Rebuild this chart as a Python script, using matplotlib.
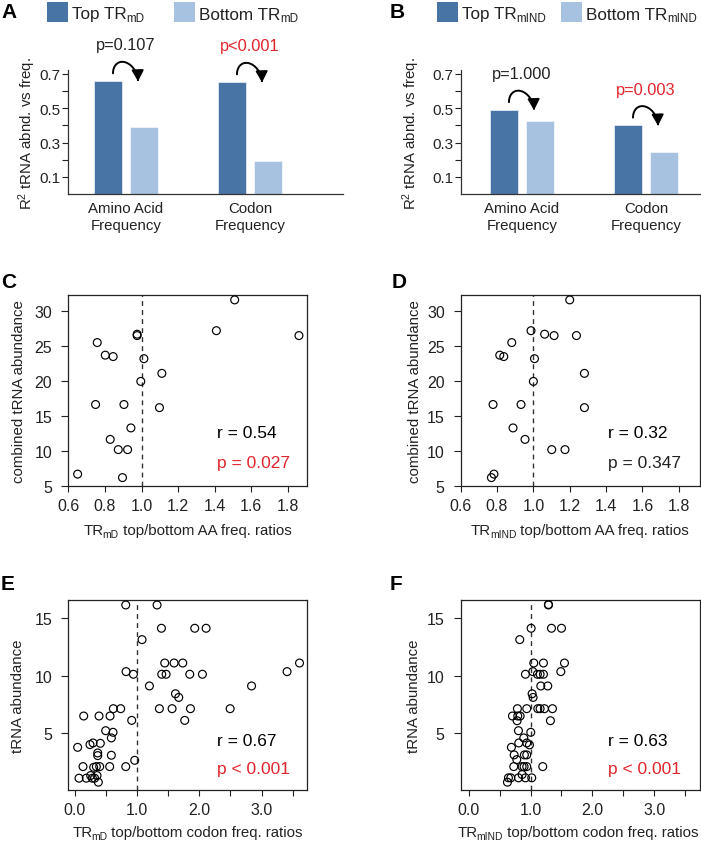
import numpy as np
import matplotlib
matplotlib.use("Agg")
import matplotlib.pyplot as plt
from matplotlib.patches import Rectangle, FancyArrowPatch
from matplotlib.path import Path

plt.rcParams['font.family'] = ['Liberation Sans', 'DejaVu Sans']
plt.rcParams['mathtext.fontset'] = 'custom'
plt.rcParams['mathtext.rm'] = 'Liberation Sans'
plt.rcParams['mathtext.it'] = 'Liberation Sans:italic'
plt.rcParams['mathtext.bf'] = 'Liberation Sans:bold'

# ---- data ----
bar_groups = ["Amino Acid\nFrequency", "Codon\nFrequency"]
a_top = [0.658, 0.652]
a_bottom = [0.39, 0.19]
a_pvals = ["p=0.107", "p<0.001"]
a_pcolors = ["#222222", "#e2242c"]
b_top = [0.49, 0.40]
b_bottom = [0.425, 0.245]
b_pvals = ["p=1.000", "p=0.003"]
b_pcolors = ["#222222", "#e2242c"]

# combined tRNA abundance per amino acid (C and D)
aa_abund = [31.6, 27.2, 26.7, 26.5, 26.5, 25.5, 23.7, 23.5, 23.2, 21.1,
            19.95, 16.65, 16.65, 16.2, 13.3, 11.66, 10.2, 10.2, 6.7, 6.2]
c_ratio = [1.509, 1.409, 0.976, 0.976, 1.86, 0.758, 0.802, 0.845, 1.013, 1.111,
           0.996, 0.749, 0.904, 1.098, 0.942, 0.829, 0.873, 0.924, 0.651, 0.896]
d_ratio = [1.2, 0.987, 1.062, 1.114, 1.237, 0.881, 0.815, 0.837, 1.006, 1.281,
           1.0, 0.778, 0.932, 1.281, 0.888, 0.954, 1.101, 1.174, 0.783, 0.769]

# codon level (E)
e_ratio = [0.82, 1.323, 1.393, 1.928, 2.11, 1.082, 1.446, 1.596, 1.735, 3.61,
           0.825, 0.943, 1.398, 1.468, 1.848, 2.051, 3.41, 1.2, 2.84,
           1.618, 1.671, 1.36, 1.564, 1.859, 2.496, 0.621, 0.739, 1.767, 0.916,
           0.145, 0.391, 0.568, 0.498, 0.616, 0.589, 0.048, 0.246, 0.295, 0.412,
           0.37, 0.37, 0.589, 0.964, 0.134, 0.305, 0.348, 0.402, 0.562, 0.82,
           0.07, 0.187, 0.284, 0.321, 0.359, 0.38, 0.257]
e_abund = [16.16, 16.16, 14.13, 14.13, 14.13, 13.14, 11.1, 11.1, 11.1, 11.1,
           10.35, 10.12, 10.12, 10.12, 10.12, 10.12, 10.35, 9.1, 9.1,
           8.42, 8.1, 7.12, 7.12, 7.12, 7.12, 7.12, 7.12, 6.1, 6.1,
           6.48, 6.48, 6.48, 5.2, 5.06, 4.57, 3.75, 3.99, 4.13, 4.1,
           3.26, 3.03, 3.06, 2.62, 2.07, 2.01, 2.07, 2.07, 2.07, 2.07,
           1.06, 1.06, 1.06, 1.06, 1.29, 0.71, 1.29]

# codon level (F)
f_ratio = [1.289, 1.289, 1.009, 1.338, 1.5, 0.825, 1.052, 1.208, 1.548, 1.036,
           1.489, 0.917, 1.111, 1.154, 1.208, 1.165, 1.278,
           1.025, 1.041, 0.787, 0.938, 1.117, 1.154, 1.224, 1.354, 0.707, 0.793,
           0.831, 0.782, 1.321, 0.804, 1.003, 0.89, 0.809, 0.938, 0.982, 0.69,
           0.734, 0.9, 0.938, 0.777, 0.728, 0.863, 0.895, 0.938, 1.197,
           0.642, 0.68, 0.804, 0.917, 1.019, 0.863, 0.626]
f_abund = [16.16, 16.2, 14.13, 14.13, 14.13, 13.14, 11.1, 11.1, 11.1, 10.35,
           10.35, 10.12, 10.12, 10.12, 10.12, 9.1, 9.1,
           8.42, 8.1, 7.12, 7.12, 7.12, 7.12, 7.12, 7.12, 6.48, 6.48,
           6.48, 6.07, 6.07, 5.2, 5.06, 4.57, 4.13, 4.13, 3.96, 3.75,
           3.09, 3.09, 3.09, 2.68, 2.07, 2.07, 2.07, 2.07, 2.07,
           1.09, 1.09, 1.09, 1.09, 1.09, 1.38, 0.71]

dark_blue = "#4874a5"
light_blue = "#a7c1e0"
red = "#e2242c"
ink = "#222222"

W, H = 701, 845
fig = plt.figure(figsize=(W / 100, H / 100), dpi=100)
renderer = fig.canvas.get_renderer()


def add_ax(l, t, r, b):
    return fig.add_axes([l / W, 1 - b / H, (r - l) / W, (b - t) / H])


def ftext(x, y, s, **kw):
    return fig.text(x / W, 1 - y / H, s, **kw)


def rich_text(x, y, parts, size, color=ink, ha='left', drop=3.0, kern=0.5):
    # parts: list of (string, is_subscript); y is the baseline in pixels
    items = []
    for s, sub in parts:
        t = fig.text(0, 0, s, fontsize=size * 0.68 if sub else size, color=color,
                     va='baseline')
        w = t.get_window_extent(renderer).width
        if not sub and items == []:
            w -= kern
        items.append((t, sub, w))
    total = sum(w for _, _, w in items)
    x0 = x - total / 2 if ha == 'center' else x
    for t, sub, w in items:
        t.set_position((x0 / W, 1 - (y + (drop if sub else 0)) / H))
        x0 += w


def legend_item(x, parts, color):
    fig.add_artist(Rectangle((x / W, 1 - 23 / H), 21 / W, 20 / H,
                             transform=fig.transFigure, fc=color, ec='none'))
    rich_text(x + 25, 19.5, parts, 12.3, drop=2.8, kern=0)


def curved_arrow(ax, start, end, h_px):
    p0 = ax.transData.transform(start)
    p1 = ax.transData.transform(end)
    t = np.linspace(0, np.pi, 40)
    u = (1 - np.cos(t)) / 2
    xs = p0[0] + u * (p1[0] - p0[0])
    ys = p0[1] + u * (p1[1] - p0[1]) + h_px * np.sin(t)
    pts = ax.transData.inverted().transform(np.column_stack([xs, ys]))
    arr = FancyArrowPatch(path=Path(pts),
                          arrowstyle="-|>,head_length=0.55,head_width=0.3",
                          mutation_scale=12, lw=1.4, color='black', clip_on=False)
    ax.add_patch(arr)


def bar_panel(ax, top, bottom, pvals, pcolors, xlim):
    pos = np.arange(1, len(top) + 1)
    off, w = 0.145, 0.228
    ax.bar(pos - off, top, width=w, color=dark_blue, ec='white', lw=0.4)
    ax.bar(pos + off, bottom, width=w, color=light_blue, ec='white', lw=0.4)
    ax.set_xlim(*xlim)
    ax.set_ylim(0, 0.72)
    ax.set_yticks(np.arange(0.1, 0.75, 0.1))
    ax.set_yticklabels(["0.1", "", "0.3", "", "0.5", "", "0.7"])
    ax.set_xticks(pos)
    ax.set_xticklabels(bar_groups, linespacing=1.25)
    ax.tick_params(axis='x', length=0, pad=5, labelsize=10.8, colors=ink)
    ax.tick_params(axis='y', length=4, width=0.8, pad=1.5, labelsize=11,
                   colors=ink)
    for s in ['top', 'right']:
        ax.spines[s].set_visible(False)
    for s in ['left', 'bottom']:
        ax.spines[s].set_color('#333333')
        ax.spines[s].set_linewidth(0.9)
    for i in range(len(top)):
        t = top[i]
        curved_arrow(ax, (pos[i] - 0.105, t + 0.045), (pos[i] + 0.097, t - 0.002), 15)
        ax.text(pos[i], t + 0.185, pvals[i], ha='center', va='baseline',
                fontsize=11.8, color=pcolors[i], clip_on=False)


def scatter_panel(ax, x, y, xlim, ylim, xticks, xlabels, yticks):
    ax.scatter(x, y, s=32, facecolors='none', edgecolors='black', linewidths=0.85,
               clip_on=False, zorder=3)
    ax.axvline(1.0, color='#333333', lw=1.0, ls=(0, (3.5, 3)), zorder=1)
    ax.set_xlim(*xlim)
    ax.set_ylim(*ylim)
    ax.set_xticks(xticks)
    ax.set_xticklabels(xlabels)
    ax.set_yticks(yticks)
    ax.tick_params(axis='both', width=0.8, labelsize=11.5, colors=ink)
    ax.tick_params(axis='x', length=4.3, pad=4)
    ax.tick_params(axis='y', length=5, pad=6.5)
    for s in ax.spines.values():
        s.set_color('#222222')
        s.set_linewidth(0.9)


# ---- A ----
axA = add_ax(68, 71.4, 343, 195)
bar_panel(axA, a_top, a_bottom, a_pvals, a_pcolors, (0.532, 2.75))
legend_item(47, [("Top TR", False), ("mD", True)], dark_blue)
legend_item(174, [("Bottom TR", False), ("mD", True)], light_blue)
ftext(1, 18.5, "A", fontsize=15, fontweight='bold', va='baseline')
ftext(27, 134, r"R$^{2}$ tRNA abnd. vs freq.", rotation=90, ha='center',
      va='center', fontsize=10.8, color=ink)

# ---- B ----
axB = add_ax(460.7, 71.4, 700, 195)
bar_panel(axB, b_top, b_bottom, b_pvals, b_pcolors, (0.506, 2.435))
legend_item(437, [("Top TR", False), ("mIND", True)], dark_blue)
legend_item(561, [("Bottom TR", False), ("mIND", True)], light_blue)
ftext(390, 18.5, "B", fontsize=15, fontweight='bold', va='baseline')
ftext(411, 134, r"R$^{2}$ tRNA abnd. vs freq.", rotation=90, ha='center',
      va='center', fontsize=10.8, color=ink)

aa_ticks = np.arange(0.6, 1.85, 0.2)
aa_labels = ["%.1f" % v for v in aa_ticks]
cod_ticks = np.arange(0.0, 3.55, 0.5)
cod_labels = ["%.1f" % v if v % 1 == 0 else "" for v in cod_ticks]

# ---- C ----
axC = add_ax(68.3, 296, 307, 487)
scatter_panel(axC, c_ratio, aa_abund, (0.6, 1.904), (5, 32.3), aa_ticks, aa_labels,
              [5, 10, 15, 20, 25, 30])
ftext(1, 288, "C", fontsize=15, fontweight='bold', va='baseline')
ftext(19, 392, "combined tRNA abundance", rotation=90, ha='center', va='center',
      fontsize=10.8, color=ink)
rich_text(187.5, 535, [("TR", False), ("mD", True),
                       (" top/bottom AA freq. ratios", False)], 10.8, ha='center',
          kern=1)
ftext(217, 438.5, "r = 0.54", fontsize=12.5, color='black', va='baseline')
ftext(217, 468.5, "p = 0.027", fontsize=12.5, color=red, va='baseline')

# ---- D ----
axD = add_ax(460.7, 296, 700, 487)
scatter_panel(axD, d_ratio, aa_abund, (0.6, 1.917), (5, 32.3), aa_ticks, aa_labels,
              [5, 10, 15, 20, 25, 30])
ftext(392, 288, "D", fontsize=15, fontweight='bold', va='baseline')
ftext(415, 392, "combined tRNA abundance", rotation=90, ha='center', va='center',
      fontsize=10.8, color=ink)
rich_text(580, 535, [("TR", False), ("mIND", True),
                     (" top/bottom AA freq. ratios", False)], 10.8, ha='center',
          kern=1)
ftext(608, 438.5, "r = 0.32", fontsize=12.5, color='black', va='baseline')
ftext(608, 468.5, "p = 0.347", fontsize=12.5, color=ink, va='baseline')

# ---- E ----
axE = add_ax(68, 600.7, 307, 791)
scatter_panel(axE, e_ratio, e_abund, (-0.107, 3.73), (0.03, 16.62), cod_ticks,
              cod_labels, [5, 10, 15])
ftext(1, 590, "E", fontsize=15, fontweight='bold', va='baseline')
ftext(18, 696, "tRNA abundance", rotation=90, ha='center', va='center',
      fontsize=10.8, color=ink)
rich_text(187.5, 837, [("TR", False), ("mD", True),
                       (" top/bottom codon freq. ratios", False)], 10.8, ha='center',
          kern=1)
ftext(217, 746.5, "r = 0.67", fontsize=12.5, color='black', va='baseline')
ftext(217, 774, "p < 0.001", fontsize=12.5, color=red, va='baseline')

# ---- F ----
axF = add_ax(460.7, 600.7, 700, 791)
scatter_panel(axF, f_ratio, f_abund, (-0.13, 3.74), (0.03, 16.62), cod_ticks,
              cod_labels, [5, 10, 15])
ftext(390, 590, "F", fontsize=15, fontweight='bold', va='baseline')
ftext(413.5, 696, "tRNA abundance", rotation=90, ha='center', va='center',
      fontsize=10.8, color=ink)
rich_text(578, 837, [("TR", False), ("mIND", True),
                     (" top/bottom codon freq. ratios", False)], 10.8, ha='center',
          kern=1)
ftext(608, 746.5, "r = 0.63", fontsize=12.5, color='black', va='baseline')
ftext(608, 774, "p < 0.001", fontsize=12.5, color=red, va='baseline')

fig.savefig("out.png", dpi=100)
